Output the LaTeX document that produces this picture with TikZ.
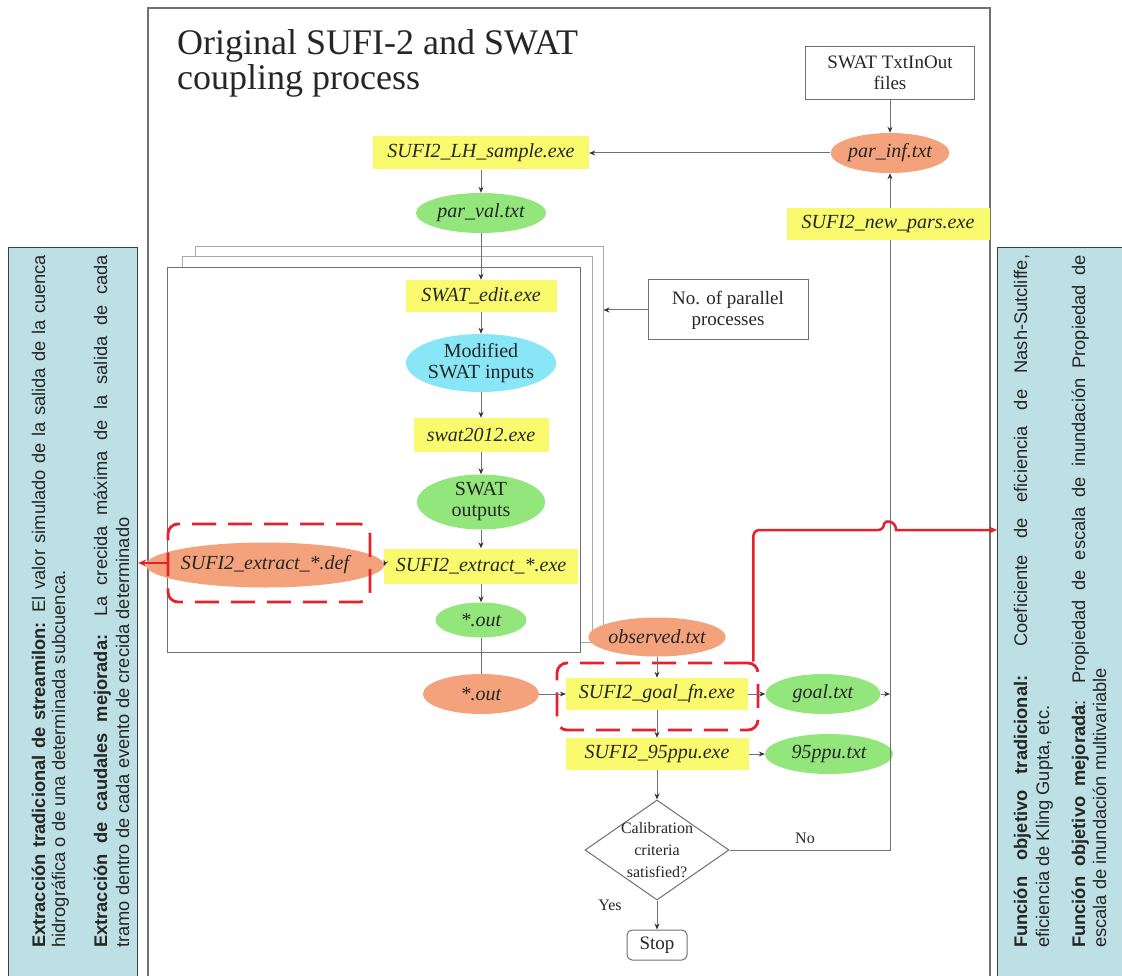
\documentclass[tikz,border=0pt]{standalone}
\usepackage{fontspec}
\setmainfont{Liberation Serif}
\newfontfamily\panelfont{Liberation Sans}
\usetikzlibrary{shapes.geometric,arrows.meta,calc}

\definecolor{yel}{HTML}{FAFA6E}
\definecolor{org}{HTML}{F3A27C}
\definecolor{grn}{HTML}{92E67C}
\definecolor{cyn}{HTML}{88E6F6}
\definecolor{pnl}{HTML}{BDE0E4}
\definecolor{redl}{HTML}{E2222C}
\definecolor{lin}{HTML}{707070}
\definecolor{stk}{HTML}{A8A8A8}

\begin{document}
\begin{tikzpicture}[x=1pt,y=1pt,
 exe/.style={fill=yel, inner sep=0, text=black!85, font=\fontsize{20}{22}\selectfont\itshape},
 ell/.style={ellipse, inner sep=0, text=black!85, font=\fontsize{20}{22}\selectfont\itshape},
 ellr/.style={ellipse, inner sep=0, align=center, text=black!85, font=\fontsize{20}{21}\selectfont},
 plainbox/.style={draw=lin, line width=1pt, inner sep=0, align=center, text=black!85, font=\fontsize{19}{21}\selectfont},
 arr/.style={draw=lin, line width=1pt, -{Stealth[length=6pt,width=5pt,color=black!80]}},
 ln/.style={draw=lin, line width=1pt},
 stackbox/.style={draw=#1, fill=white, line width=1pt, inner sep=0},
 reddash/.style={draw=redl, line width=2.8pt, dash pattern=on 24pt off 12pt, rounded corners=10pt, inner sep=0},
 redarr/.style={draw=redl, line width=2.5pt, -{Stealth[length=8pt,width=7pt]}},
 panel/.style={draw=black!75, fill=pnl, line width=1.2pt, inner sep=0, anchor=north west},
 ptxt/.style={rotate=90, anchor=base west, inner sep=0, text=black!85, font=\panelfont\fontsize{18.3}{20}\selectfont},
 lbl/.style={inner sep=0, text=black!85, font=\fontsize{16}{18}\selectfont},
]
\useasboundingbox (0,0) rectangle (1122,-976);

% side panels
\node[panel, minimum width=129, minimum height=760] (lp) at (8,-247) {};
\node[panel, minimum width=140, minimum height=760] (rp) at (997,-247) {};

\node[ptxt] (l1) at (45,-948) {\makebox[693pt][s]{\textbf{Extracción tradicional de streamilon:} El valor simulado de la salida de la cuenca}};
\node[ptxt] (l2) at (65,-948) {hidrográfica o de una determinada subcuenca.};
\node[ptxt] (l3) at (107,-948) {\makebox[693pt][s]{\textbf{Extracción de caudales mejorada:} La crecida máxima de la salida de cada}};
\node[ptxt] (l4) at (129,-948) {tramo dentro de cada evento de crecida determinado};

\node[ptxt] (r1) at (1027,-948) {\makebox[693pt][s]{\textbf{Función objetivo tradicional:} Coeficiente de eficiencia de Nash-Sutcliffe,}};
\node[ptxt] (r2) at (1049,-948) {eficiencia de Kling Gupta, etc.};
\node[ptxt] (r3) at (1085,-948) {\makebox[693pt][s]{\textbf{Función objetivo mejorada}: Propiedad de escala de inundación Propiedad de}};
\node[ptxt] (r4) at (1106,-948) {escala de inundación multivariable};

% main frame
\draw[draw=lin, line width=1.5pt] (148,-990) -- (148,-8) -- (990,-8) -- (990,-990);

% title
\node[anchor=north west, align=left, inner sep=0, text=black!85, font=\fontsize{36}{35}\selectfont] (title) at (177,-29) {Original SUFI-2 and SWAT\\coupling process};

% stack of parallel boxes
\node[stackbox=stk, minimum width=408, minimum height=385] (box3) at (399,-439.5) {};
\node[stackbox=stk, minimum width=410, minimum height=385] (box2) at (387,-449.5) {};
\node[stackbox=lin, minimum width=413, minimum height=384] (box1) at (373.5,-460) {};

% nodes
\node[plainbox, minimum width=169, minimum height=53] (txt) at (890,-73) {SWAT TxtInOut\\files};
\node[ell, fill=org, minimum width=116, minimum height=40] (parinf) at (890,-153) {par\_inf.txt};
\node[exe, minimum width=216, minimum height=33] (lh) at (481,-153) {SUFI2\_LH\_sample.exe};
\node[ell, fill=grn, minimum width=130, minimum height=40] (parval) at (481,-213) {par\_val.txt};
\node[plainbox, minimum width=160, minimum height=60] (npp) at (728,-310) {No. of parallel\\processes};
\node[exe, minimum width=151, minimum height=32] (edit) at (481,-296) {SWAT\_edit.exe};
\node[ellr, fill=cyn, minimum width=133, minimum height=58] (mod) at (481,-363) {Modified\\SWAT inputs};
\node[exe, minimum width=135, minimum height=34] (swat) at (481,-435) {swat2012.exe};
\node[ellr, fill=grn, minimum width=128, minimum height=55] (outs) at (481,-502) {SWAT\\outputs};
\node[exe, minimum width=194, minimum height=35] (extr) at (481,-566) {SUFI2\_extract\_*.exe};
\node[ell, fill=org, minimum width=194, minimum height=45] (def) at (265,-565) {SUFI2\_extract\_*.def};
\node[reddash, minimum width=202, minimum height=78] (defbox) at (269,-563) {};
\node[ell, fill=grn, minimum width=91, minimum height=35] (out1) at (481,-620) {*.out};
\node[ell, fill=org, minimum width=116, minimum height=40] (out2) at (481,-694) {*.out};
\node[ell, fill=org, minimum width=113, minimum height=39] (obs) at (657,-637) {observed.txt};
\node[exe, minimum width=182, minimum height=32] (goalfn) at (657,-694) {SUFI2\_goal\_fn.exe};
\node[reddash, minimum width=201, minimum height=67] (goalbox) at (657.5,-696.5) {};
\node[ell, fill=grn, minimum width=115, minimum height=40] (goal) at (823,-694) {goal.txt};
\node[exe, minimum width=183, minimum height=32] (ppuexe) at (657,-754) {SUFI2\_95ppu.exe};
\node[ell, fill=grn, minimum width=128, minimum height=40] (ppu) at (829,-754) {95ppu.txt};
\node[diamond, draw=lin, line width=1pt, fill=white, minimum width=144, minimum height=100, inner sep=0] (dec) at (657,-850) {};
\node[lbl, align=center, font=\fontsize{16}{22}\selectfont] (dect) at (657,-850) {Calibration\\criteria\\satisfied?};
\node[draw=lin, line width=1pt, rounded corners=5pt, minimum width=60, minimum height=30, inner sep=0, text=black!85, font=\fontsize{19}{21}\selectfont] (stop) at (657,-945) {Stop};
\node[lbl] (no) at (805,-838) {No};
\node[lbl] (yes) at (610,-905) {Yes};

% return line and new_pars
\draw[arr] (dec.east) -- (dec.east -| parinf.south) -- (parinf.south);
\node[exe, minimum width=203, minimum height=32] (newpars) at (888,-224) {SUFI2\_new\_pars.exe};

% connectors
\draw[arr] (txt.south) -- (parinf.north);
\draw[arr] (parinf.west) -- (lh.east);
\draw[arr] (lh.south) -- (parval.north);
\draw[arr] (parval.south) -- (edit.north);
\draw[arr] (npp.west) -- (npp.west -| box3.east);
\draw[arr] (edit.south) -- (mod.north);
\draw[arr] (mod.south) -- (swat.north);
\draw[arr] (swat.south) -- (outs.north);
\draw[arr] (outs.south) -- (extr.north);
\draw[arr] (def.east) -- (extr.west);
\draw[arr] (extr.south) -- (out1.north);
\draw[ln] (out1.south) -- (out2.north);
\draw[arr] (out2.east) -- (goalfn.west);
\draw[arr] (obs.south) -- (goalfn.north);
\draw[arr] (goalfn.east) -- (goal.west);
\draw[arr] (goal.east) -- (goal.east -| parinf.south);
\draw[arr] (goalfn.south) -- (ppuexe.north);
\draw[arr] (ppuexe.east) -- (ppu.west);
\draw[arr] (ppuexe.south) -- (dec.north);
\draw[arr] (dec.south) -- (stop.north);

% red links
\draw[redarr] (defbox.west) -- (defbox.west -| lp.east);
\coordinate (jl) at (884,-530);
\coordinate (jr) at (896,-530);
\draw[redarr, rounded corners=6pt] ($(goalbox.north east)+(-6,0)$) |- (jl) [sharp corners] .. controls (884,-520) and (896,-520) .. (jr) -- (jr -| rp.west);
\end{tikzpicture}
\end{document}
